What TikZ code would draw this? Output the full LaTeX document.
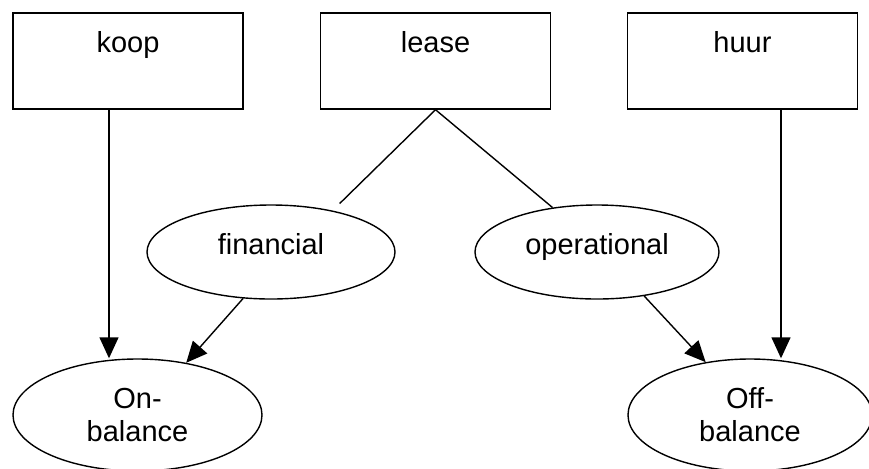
\documentclass[tikz,border=0pt]{standalone}
\usepackage{fontspec}
\setmainfont{Liberation Sans}
\usepackage{tikz}
\usetikzlibrary{positioning}
\usetikzlibrary{shapes.geometric}
\usetikzlibrary{arrows.meta}

\begin{document}
\begin{tikzpicture}[x=0.5pt,y=-0.5pt,font=\fontsize{14.5}{16.5}\selectfont,
    box/.style={draw,line width=0.7pt,rectangle,inner sep=0pt,minimum width=115pt,text height=19.5pt,text depth=28.5pt},
    oval/.style={draw,line width=0.7pt,ellipse,inner sep=0pt,align=center},
    arr/.style={line width=0.7pt,-{Triangle[length=10.5pt,width=9.5pt]}}]
            \useasboundingbox (0,0) rectangle (869,468);
            % Top row (boxes)
            \node[box] (koop) at (128,61) {koop};
            \node[box] (lease) at (435.5,61) {lease};
            \node[box] (huur) at (742.5,61) {huur};
            % Middle row (kinds of lease)
            \node[oval,minimum width=124pt,minimum height=47pt,text height=10.5pt,text depth=8.5pt] (fin) at (271,252) {financial};
            \node[oval,minimum width=122pt,minimum height=47pt,text height=10.5pt,text depth=8.5pt] (oper) at (597,252) {operational};
            % Bottom row
            \node[oval,minimum width=124.5pt,minimum height=56pt] (onbal) at (137.5,415) {On-\\balance};
            \node[oval,minimum width=122pt,minimum height=56pt] (offbal) at (750,415) {Off-\\balance};
            % Connectors
            \draw[line width=0.7pt,shorten >=5pt] (lease.south) -- (fin.34);
            \draw[line width=0.7pt] (lease.south) -- (oper.135);
            \draw[arr] ([xshift=-9.5pt]koop.south) -- ([xshift=-9.5pt]koop.south |- onbal.north);
            \draw[arr] ([xshift=19.25pt]huur.south) -- ([xshift=19.25pt]huur.south |- offbal.north);
            \draw[arr] (fin.239) -- (onbal.47);
            \draw[arr] (oper.317) -- (offbal.130);
\end{tikzpicture}
\end{document}
